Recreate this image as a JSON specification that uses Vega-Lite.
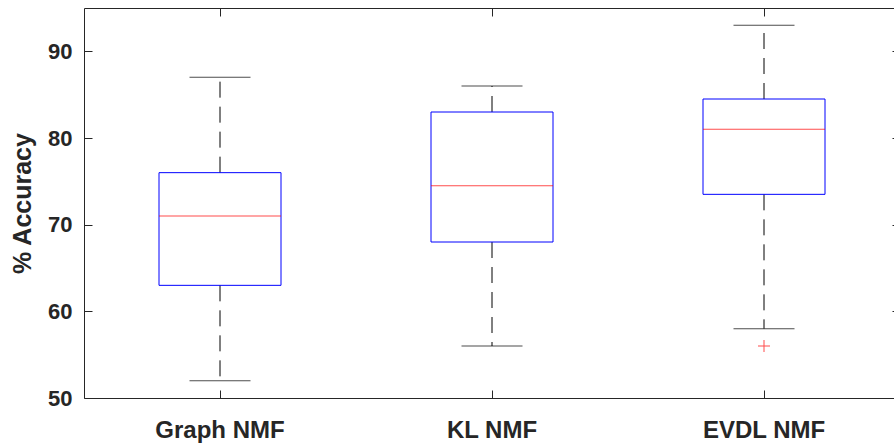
{
  "$schema": "https://vega.github.io/schema/vega-lite/v6.json",
  "autosize": "none",
  "width": 816,
  "height": 390,
  "padding": {"left": 84, "top": 8, "right": 0, "bottom": 47},
  "background": "white",
  "config": {
    "view": {"stroke": null},
    "font": "Liberation Sans",
    "axis": {"domainColor": "#262626", "tickColor": "#262626", "labelColor": "#262626", "titleColor": "#262626", "grid": false, "labelFont": "Liberation Sans", "titleFont": "Liberation Sans"}
  },
  "data": {"values": [
    {"method": "Graph NMF", "lo": 52, "q1": 63, "med": 71, "q3": 76, "hi": 87},
    {"method": "KL NMF", "lo": 56, "q1": 68, "med": 74.5, "q3": 83, "hi": 86},
    {"method": "EVDL NMF", "lo": 58, "q1": 73.5, "med": 81, "q3": 84.5, "hi": 93}
  ]},
  "resolve": {"axis": {"x": "independent", "y": "independent"}},
  "layer": [
    {
      "mark": {"type": "rule", "color": "black", "strokeWidth": 1, "strokeDash": [16, 9]},
      "encoding": {
        "x": {"field": "method", "type": "nominal", "sort": ["Graph NMF", "KL NMF", "EVDL NMF"],
              "scale": {"type": "band", "paddingInner": 0, "paddingOuter": 0},
              "axis": {"orient": "bottom", "title": null, "labelAngle": 0, "labelFontSize": 24, "labelFontWeight": "bold", "tickSize": -8, "labelPadding": 28, "domainWidth": 1}},
        "y": {"field": "q3", "type": "quantitative",
              "scale": {"domain": [50, 95], "nice": false, "zero": false},
              "axis": {"orient": "left", "title": "% Accuracy", "titleFontSize": 25, "titleFontWeight": "bold", "titlePadding": 12, "values": [50, 60, 70, 80, 90], "labelFontSize": 22, "labelFontWeight": "bold", "tickSize": -8, "labelPadding": 20}},
        "y2": {"field": "hi"}
      }
    },
    {
      "mark": {"type": "rule", "color": "black", "strokeWidth": 1, "strokeDash": [16, 9]},
      "encoding": {
        "x": {"field": "method", "type": "nominal", "sort": ["Graph NMF", "KL NMF", "EVDL NMF"],
              "axis": {"orient": "top", "title": null, "labels": false, "tickSize": -8, "domainWidth": 1}},
        "y": {"field": "q1", "type": "quantitative",
              "axis": {"orient": "right", "title": null, "labels": false, "values": [50, 60, 70, 80, 90], "tickSize": -8}},
        "y2": {"field": "lo"}
      }
    },
    {
      "mark": {"type": "tick", "color": "black", "thickness": 1, "size": 61, "orient": "horizontal"},
      "encoding": {
        "x": {"field": "method", "type": "nominal", "sort": ["Graph NMF", "KL NMF", "EVDL NMF"], "axis": null},
        "y": {"field": "hi", "type": "quantitative", "axis": null}
      }
    },
    {
      "mark": {"type": "tick", "color": "black", "thickness": 1, "size": 61, "orient": "horizontal"},
      "encoding": {
        "x": {"field": "method", "type": "nominal", "sort": ["Graph NMF", "KL NMF", "EVDL NMF"], "axis": null},
        "y": {"field": "lo", "type": "quantitative", "axis": null}
      }
    },
    {
      "mark": {"type": "bar", "width": 122, "fill": "white", "fillOpacity": 0, "stroke": "#0000ff", "strokeWidth": 1},
      "encoding": {
        "x": {"field": "method", "type": "nominal", "sort": ["Graph NMF", "KL NMF", "EVDL NMF"], "axis": null},
        "y": {"field": "q1", "type": "quantitative", "axis": null},
        "y2": {"field": "q3"}
      }
    },
    {
      "mark": {"type": "tick", "color": "#ff0000", "thickness": 1, "size": 122, "orient": "horizontal"},
      "encoding": {
        "x": {"field": "method", "type": "nominal", "sort": ["Graph NMF", "KL NMF", "EVDL NMF"], "axis": null},
        "y": {"field": "med", "type": "quantitative", "axis": null}
      }
    },
    {
      "data": {"values": [{"method": "EVDL NMF", "acc": 56}]},
      "mark": {"type": "point", "shape": "M-1,0L1,0M0,-1L0,1", "size": 144, "stroke": "#ff0000", "strokeWidth": 1, "filled": false},
      "encoding": {
        "x": {"field": "method", "type": "nominal", "sort": ["Graph NMF", "KL NMF", "EVDL NMF"], "axis": null},
        "y": {"field": "acc", "type": "quantitative", "axis": null}
      }
    }
  ]
}
